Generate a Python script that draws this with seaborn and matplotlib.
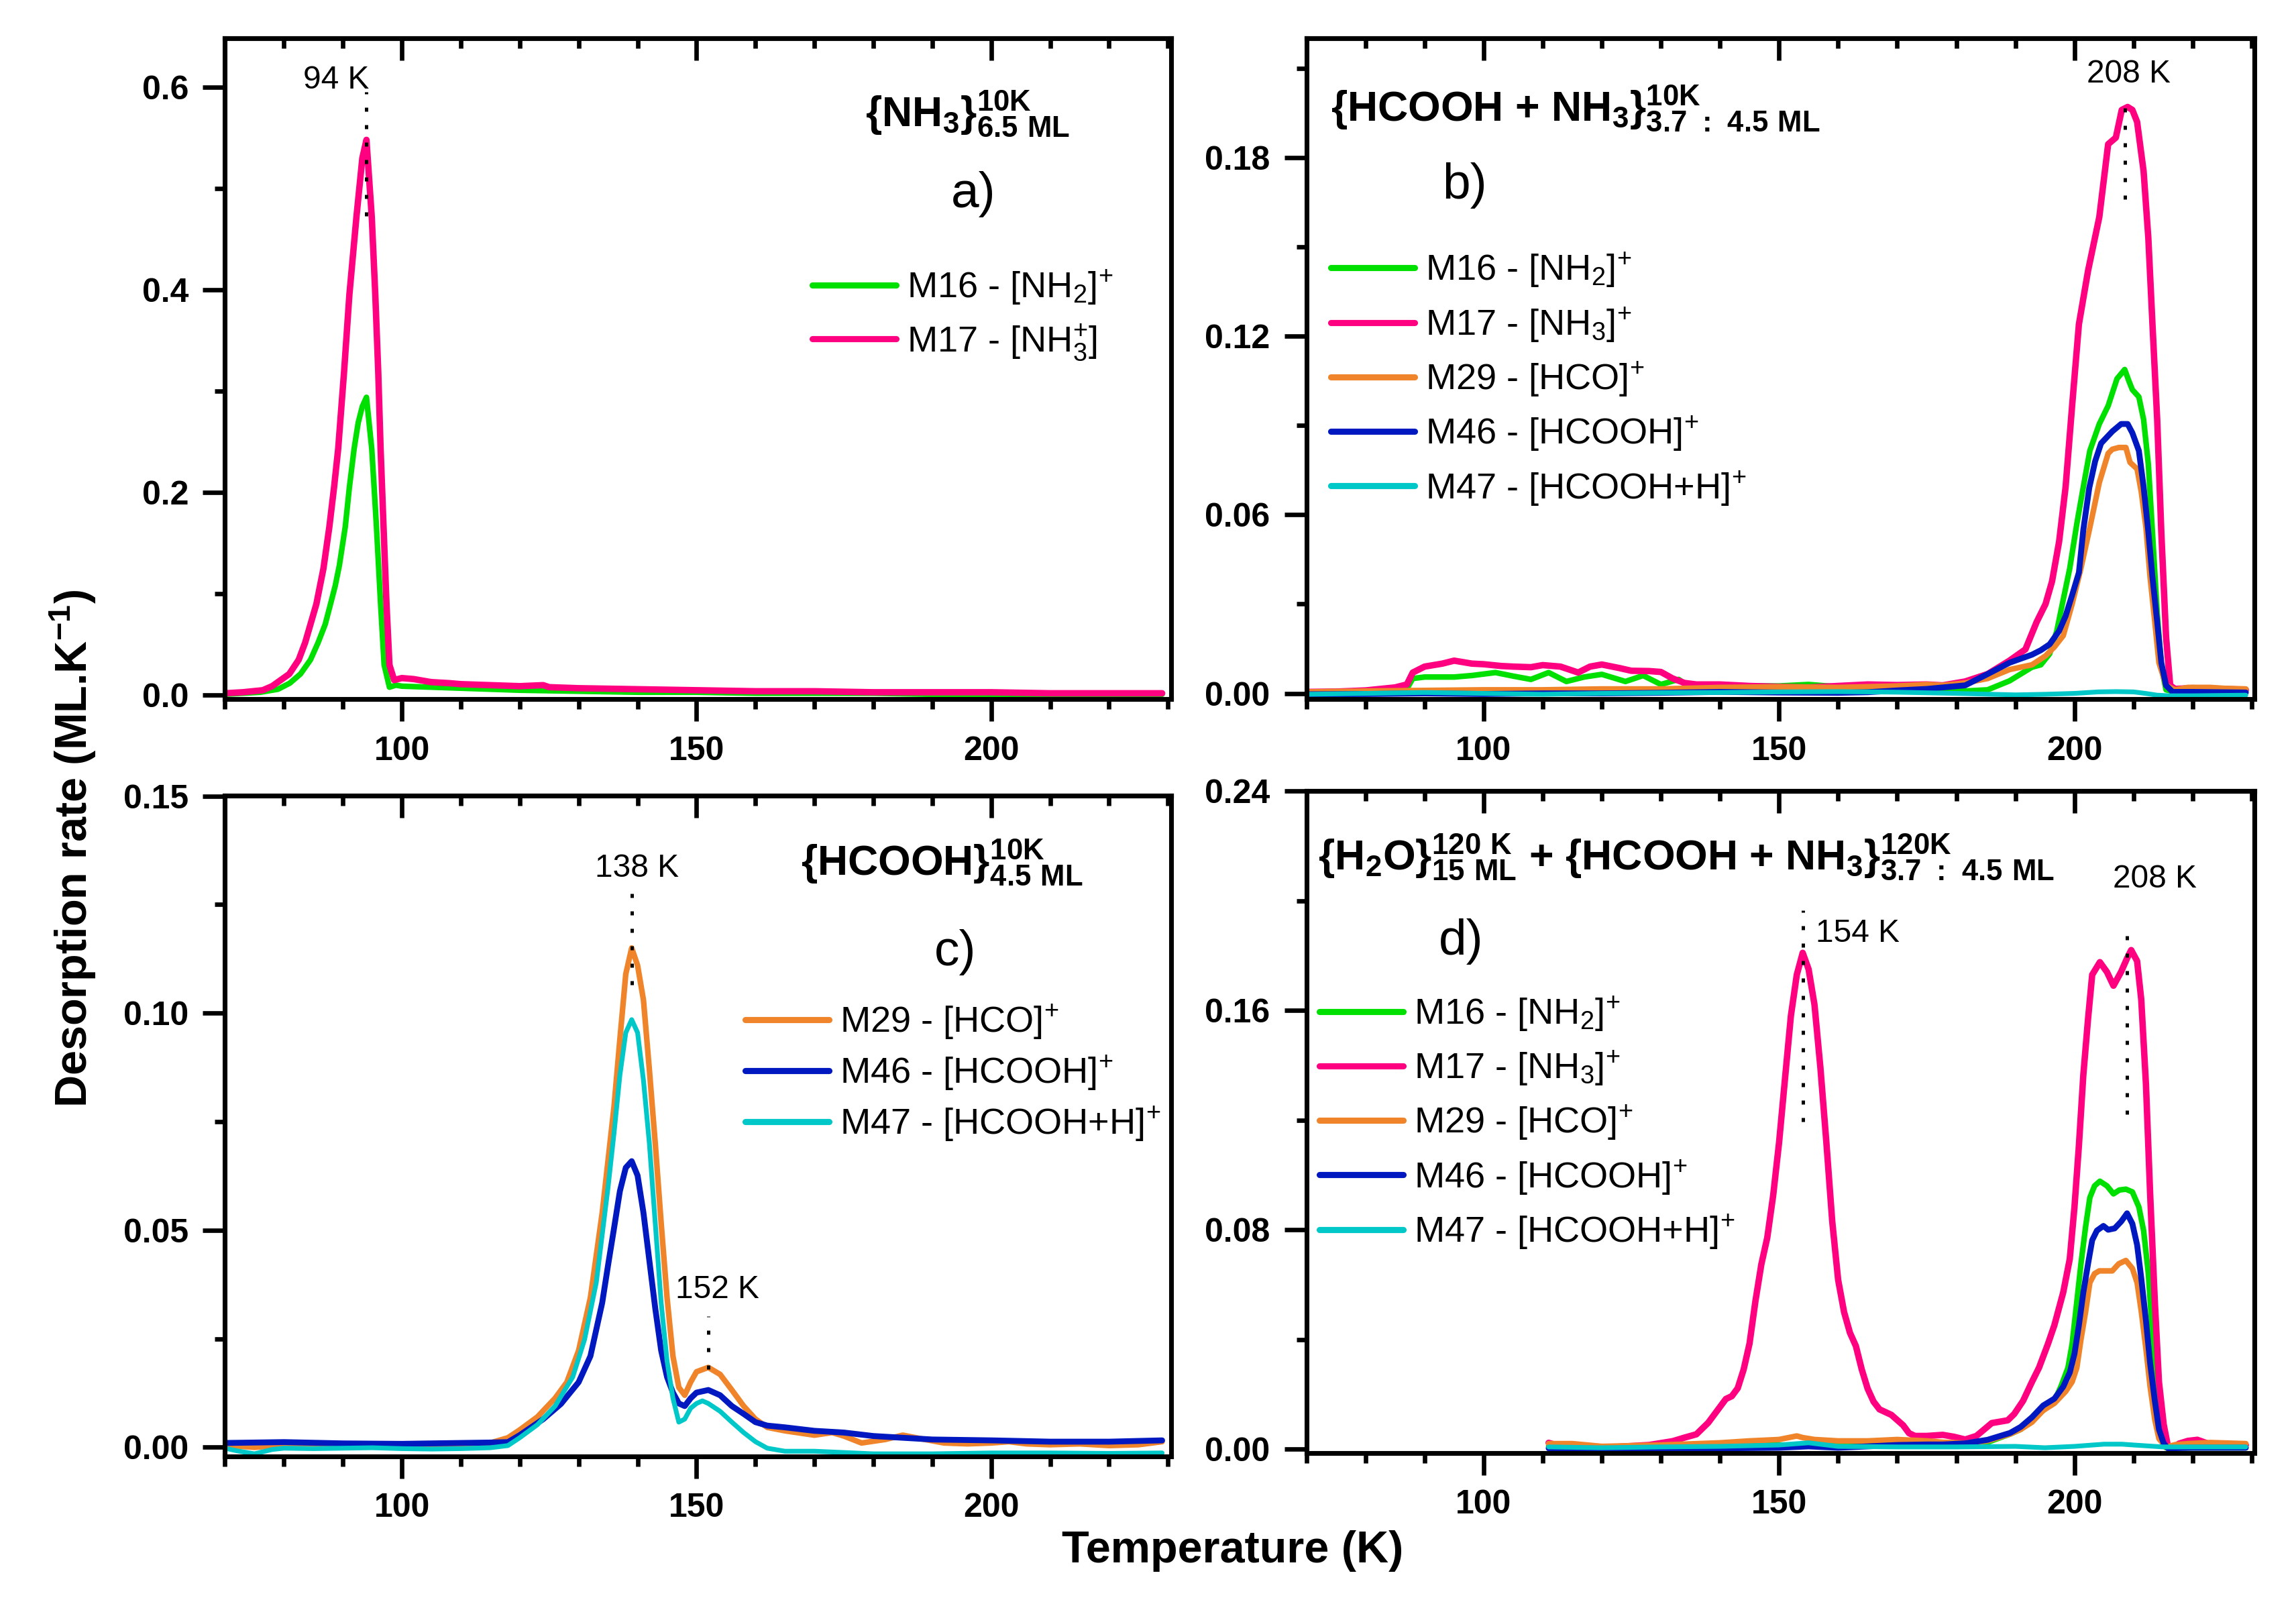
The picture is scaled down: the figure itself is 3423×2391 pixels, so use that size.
import matplotlib
matplotlib.use("Agg")
import matplotlib.pyplot as plt
from matplotlib.ticker import MultipleLocator, FormatStrFormatter
import seaborn as sns

# ---------------- panel a : NH3 ----------------
a_t16 = [70, 73, 76, 79, 81, 82.8, 84.5, 85.8, 87, 87.9, 88.7, 89.4, 90.4, 91.1, 91.9, 92.6, 93.3, 94, 94.9, 95.3,
         95.7, 96.4, 97.0, 97.9, 99, 100, 105, 110, 120, 130, 140, 150, 160, 170, 180, 190, 200, 210, 220, 229]
a_m16 = [0.001, 0.002, 0.003, 0.006, 0.012, 0.021, 0.035, 0.052, 0.07, 0.09, 0.108, 0.128, 0.166, 0.205, 0.243, 0.269, 0.285, 0.294, 0.243, 0.205,
         0.166, 0.09, 0.03, 0.008, 0.01, 0.009, 0.008, 0.007, 0.005, 0.004, 0.003, 0.003, 0.002, 0.002, 0.002, 0.001, 0.001, 0.001, 0.001, 0.001]
a_t17 = [70, 73, 76.4, 78, 80.9, 82.5, 83.6, 85.5, 86.7, 87.7, 88.5, 89.2, 90.2, 91.1, 92.3, 93.3, 94, 94.9, 95.5, 96.0,
         96.4, 96.9, 97.4, 97.9, 98.7, 100, 102, 105, 108, 110, 115, 120, 124, 125, 130, 140, 150, 160, 170, 180,
         190, 200, 210, 220, 229]
a_m17 = [0.002, 0.003, 0.005, 0.009, 0.021, 0.035, 0.052, 0.09, 0.125, 0.166, 0.205, 0.243, 0.319, 0.395, 0.472, 0.53, 0.548, 0.472, 0.395, 0.319,
         0.243, 0.166, 0.09, 0.03, 0.015, 0.017, 0.016, 0.013, 0.012, 0.011, 0.010, 0.009, 0.010, 0.008, 0.007, 0.006, 0.005, 0.004, 0.004, 0.003,
         0.003, 0.003, 0.002, 0.002, 0.002]

# ---------------- panel b : HCOOH + NH3 ----------------
b_t16 = [70, 75, 80, 85, 87, 88, 90, 95, 98, 102, 105, 108, 111, 114, 117, 120, 124, 127, 130, 133,
         135, 140, 145, 150, 155, 160, 165, 170, 175, 181.5, 185.3, 189, 192.8, 194.3, 195.8, 197, 198.1, 199.2, 200.4, 201.5,
         202.6, 204.2, 205.7, 207.2, 208.5, 209.2, 209.8, 210.9, 211.7, 212.5, 213.2, 214, 214.7, 215.5, 217, 222, 229]
b_m16 = [0.0005, 0.0006, 0.0008, 0.001, 0.0015, 0.005, 0.0055, 0.0055, 0.006, 0.007, 0.0058, 0.0047, 0.007, 0.004, 0.0055, 0.0064, 0.004, 0.006, 0.003, 0.0047,
         0.002, 0.0022, 0.0025, 0.0025, 0.003, 0.0022, 0.0018, 0.002, 0.0015, 0.0008, 0.0012, 0.0042, 0.0088, 0.0096, 0.0133, 0.0209, 0.0315, 0.042, 0.057, 0.0694,
         0.0815, 0.0905, 0.0966, 0.1057, 0.1088, 0.105, 0.102, 0.0996, 0.092, 0.077, 0.054, 0.027, 0.0088, 0.0012, 0.0005, 0.0005, 0.0005]
b_t17 = [70, 75, 80, 85, 87, 88, 90, 93, 95, 98, 100, 103, 105, 108, 110, 113, 116, 118, 120, 123,
         125, 128, 130, 132, 134, 136, 140, 145, 150, 155, 160, 165, 170, 175, 177.7, 181.5, 185.3, 189, 191.7, 193.6,
         195.1, 196.2, 197.4, 198.5, 199.6, 200.75, 202.3, 204.2, 205.7, 207, 208, 209, 209.8, 210.6, 211.7, 212.5, 213.2, 214, 214.7, 215.5,
         216.2, 217, 220, 225, 229]
b_m17 = [0.0005, 0.0006, 0.001, 0.002, 0.003, 0.007, 0.009, 0.010, 0.011, 0.010, 0.0098, 0.0092, 0.009, 0.0088, 0.0095, 0.009, 0.007, 0.009, 0.0097, 0.0085,
         0.0076, 0.0075, 0.0072, 0.005, 0.0035, 0.003, 0.003, 0.0025, 0.0022, 0.002, 0.0025, 0.003, 0.0028, 0.003, 0.0027, 0.004, 0.0065, 0.011, 0.0148, 0.024,
         0.030, 0.0376, 0.051, 0.0694, 0.0966, 0.124, 0.142, 0.160, 0.1845, 0.1867, 0.196, 0.197, 0.196, 0.192, 0.1754, 0.153, 0.124, 0.092, 0.054, 0.019,
         0.0027, 0.0015, 0.0018, 0.0015, 0.0012]
b_t29 = [70, 80, 90, 100, 110, 120, 130, 140, 150, 160, 170, 175, 177.7, 181.5, 185.3, 189, 192.8, 195.1, 196.6, 198.1,
         199.6, 201.1, 202.6, 204.2, 205.7, 206.4, 207.5, 208.7, 209.4, 210.6, 211.3, 212.1, 212.8, 213.6, 214.3, 215.5, 217, 219.2, 223, 225.3, 229]
b_m29 = [0.0005, 0.0008, 0.001, 0.0012, 0.0012, 0.0015, 0.0015, 0.002, 0.0022, 0.002, 0.0025, 0.003, 0.0027, 0.0035, 0.005, 0.008, 0.0096, 0.0126, 0.0156, 0.0194,
         0.03, 0.0421, 0.0557, 0.0708, 0.0806, 0.082, 0.0826, 0.0826, 0.0776, 0.0754, 0.0678, 0.0557, 0.039, 0.024, 0.0103, 0.0027, 0.0012, 0.002, 0.002, 0.0017, 0.0015]
b_t46 = [70, 80, 90, 100, 110, 120, 130, 140, 150, 160, 165, 170, 175, 177.7, 181.5, 185.3, 189, 192.8, 194.3, 195.8,
         197.4, 198.5, 199.6, 200.75, 201.5, 202.5, 203.5, 204.5, 206.4, 207.9, 209, 209.8, 210.9, 211.7, 212.5, 213.2, 214, 214.7, 215.5, 216.6,
         220, 229]
b_m46 = [-0.0003, -0.0002, 0.0, -0.0002, 0.0, 0.0, 0.0002, 0.0005, 0.0003, 0.0002, 0.0004, 0.001, 0.0015, 0.002, 0.0027, 0.0065, 0.0103, 0.013, 0.0145, 0.0165,
         0.021, 0.026, 0.033, 0.0406, 0.055, 0.069, 0.078, 0.084, 0.088, 0.0905, 0.0905, 0.0875, 0.0815, 0.0694, 0.0543, 0.039, 0.024, 0.0103, 0.0027, 0.0005,
         0.0005, 0.0003]
b_t47 = [70, 80, 90, 100, 110, 120, 130, 140, 150, 160, 170, 180, 190, 195, 200, 204, 207, 210, 212, 214, 216, 220, 229]
b_m47 = [-0.0003, 0.0, 0.0003, 0.0, -0.0003, 0.0, 0.0002, 0.0003, 0.0005, 0.0006, 0.0004, 0.0, -0.0005, -0.0003, 0.0, 0.0005, 0.0006, 0.0005, 0.0, -0.0006,
         -0.0008, -0.0008, -0.0006]

# ---------------- panel c : HCOOH ----------------
c_t29 = [70, 75, 80, 85, 90, 95, 100, 105, 110, 115, 118, 120, 123, 126, 128, 130, 132, 134, 136, 137,
         138, 139, 140, 141, 142, 143, 144, 145, 146, 147, 148, 149, 150, 152, 154, 156, 158, 160, 162, 165,
         170, 173, 175, 178, 182, 185, 188, 192, 196, 200, 203, 206, 210, 215, 220, 225, 229]
c_m29 = [0.0005, 0.0, 0.0005, 0.0003, 0.0002, 0.0008, 0.0004, 0.0002, 0.0004, 0.001, 0.0022, 0.004, 0.007, 0.0113, 0.015, 0.0223, 0.0345, 0.054, 0.0784, 0.094,
         0.109, 0.115, 0.111, 0.103, 0.087, 0.07, 0.0517, 0.0345, 0.021, 0.0138, 0.012, 0.015, 0.0174, 0.0184, 0.0168, 0.0132, 0.0095, 0.0065, 0.0046, 0.0038,
         0.0028, 0.0034, 0.0026, 0.001, 0.0018, 0.0028, 0.002, 0.001, 0.0008, 0.001, 0.0013, 0.0008, 0.0006, 0.0008, 0.0004, 0.0006, 0.0013]
c_t46 = [70, 80, 90, 100, 110, 115, 118, 120, 124, 127, 130, 132, 134, 135, 136, 137, 138, 139, 140, 141,
         142, 143, 144, 145, 146, 147, 148, 149, 150, 152, 154, 156, 158, 160, 162, 165, 170, 175, 180, 185,
         190, 200, 210, 220, 229]
c_m46 = [0.001, 0.0012, 0.0009, 0.0008, 0.001, 0.0011, 0.0012, 0.0028, 0.0065, 0.01, 0.015, 0.021, 0.0333, 0.042, 0.0504, 0.059, 0.0644, 0.0659, 0.0626, 0.054,
         0.043, 0.032, 0.0223, 0.0162, 0.0126, 0.0101, 0.0095, 0.0113, 0.0126, 0.0132, 0.012, 0.0095, 0.0077, 0.0058, 0.005, 0.0046, 0.0038, 0.0034, 0.0026, 0.0022,
         0.0018, 0.0016, 0.0013, 0.0013, 0.0016]
c_t47 = [70, 72, 75, 78, 80, 85, 90, 95, 100, 105, 110, 115, 118, 120, 123, 126, 129, 131, 133, 135,
         136, 137, 138, 139, 140, 141, 142, 143, 144, 145, 146, 147, 148, 149, 150, 151, 152, 154, 156, 158,
         160, 162, 165, 170, 180, 190, 200, 210, 220, 229]
c_m47 = [-0.0002, -0.0008, -0.0015, -0.0005, -0.0002, -0.0003, -0.0002, -0.0001, -0.0003, -0.0004, -0.0003, -0.0001, 0.0004, 0.0022, 0.0052, 0.0095, 0.0162, 0.0248, 0.038, 0.060,
         0.0723, 0.0857, 0.0955, 0.0985, 0.0955, 0.0845, 0.070, 0.0516, 0.0333, 0.0199, 0.0113, 0.0058, 0.0065, 0.009, 0.0101, 0.0107, 0.0101, 0.0083, 0.0058, 0.0034,
         0.0013, -0.0002, -0.0009, -0.0009, -0.0015, -0.0015, -0.0013, -0.0013, -0.0014, -0.0013]

# ---------------- panel d : H2O + (HCOOH + NH3) ----------------
d_t16 = [111, 120, 130, 140, 150, 160, 170, 180, 181.5, 185.3, 189.1, 190.9, 192.8, 194.7, 196.6, 197.7, 198.9, 199.6, 200.4, 201.1,
         201.9, 202.6, 203.4, 204.3, 205.5, 206.6, 207.6, 208.7, 209.8, 210.9, 211.7, 212.5, 213.2, 214, 214.7, 215.5, 218, 222, 229]
d_m16 = [0.001, 0.0008, 0.001, 0.0012, 0.0015, 0.0012, 0.0015, 0.0015, 0.0015, 0.0025, 0.0055, 0.0072, 0.0107, 0.0141, 0.0176, 0.0228, 0.0297, 0.0383, 0.0538, 0.0676,
         0.0814, 0.0917, 0.096, 0.0977, 0.096, 0.0931, 0.0945, 0.0948, 0.0938, 0.0883, 0.0797, 0.0641, 0.0417, 0.0193, 0.0038, 0.0005, 0.0005, 0.0005, 0.0005]
d_t17 = [111, 113, 116, 120, 124, 128, 132, 134, 136, 138, 140, 141, 142, 143, 144, 145, 146, 147, 148, 149,
         150, 151, 152, 153, 154, 155, 156, 157, 158, 159, 160, 161, 162, 163, 164, 165, 166, 167, 168, 169,
         170, 171, 172, 173, 175, 177.7, 179.6, 181.5, 183.4, 184.9, 186, 188.7, 189.8, 191.3, 192.8, 194, 195.5, 196.6, 198.1, 199.2,
         200, 200.75, 201.5, 202.3, 203, 204.3, 205.5, 206.6, 207.9, 208.9, 209.6, 210.6, 211.3, 212.1, 212.8, 213.6, 214.3, 215.1, 215.8, 216.6,
         217.7, 219.2, 220.8, 223, 225.3, 229]
d_m17 = [0.0023, 0.001, 0.0004, 0.0004, 0.001, 0.0015, 0.0029, 0.0042, 0.0054, 0.0096, 0.0154, 0.0183, 0.0193, 0.0222, 0.029, 0.0385, 0.054, 0.0674, 0.0771, 0.0925,
         0.1118, 0.135, 0.158, 0.173, 0.181, 0.175, 0.162, 0.139, 0.112, 0.083, 0.0617, 0.050, 0.0424, 0.0376, 0.029, 0.022, 0.0173, 0.0145, 0.0135, 0.0125,
         0.0106, 0.0087, 0.0058, 0.0048, 0.0048, 0.0052, 0.0045, 0.0035, 0.0048, 0.0075, 0.0095, 0.0105, 0.0128, 0.0176, 0.0245, 0.0297, 0.0383, 0.0452, 0.0572, 0.0693,
         0.0883, 0.1107, 0.1365, 0.157, 0.173, 0.1776, 0.174, 0.169, 0.1741, 0.179, 0.182, 0.178, 0.164, 0.133, 0.0934, 0.0538, 0.0245, 0.009, 0.0012, 0.0003,
         0.002, 0.003, 0.0034, 0.0017, 0.0012, 0.0015]
d_t29 = [111, 115, 120, 130, 140, 145, 150, 153, 154, 156, 160, 165, 170, 175, 177.7, 181.5, 185.3, 189.1, 190.9, 192.8,
         194.7, 196.6, 198.5, 199.6, 200.4, 201.1, 201.9, 202.6, 203.4, 204.2, 206.4, 207.5, 208.7, 209.8, 210.6, 211.3, 212.1, 212.8, 213.6, 214.3,
         215.5, 217, 219.2, 223, 229]
d_m29 = [0.002, 0.002, 0.001, 0.0015, 0.0023, 0.003, 0.0035, 0.0048, 0.0042, 0.0035, 0.003, 0.003, 0.0035, 0.003, 0.0025, 0.0022, 0.003, 0.0055, 0.0072, 0.0098,
         0.0141, 0.0167, 0.021, 0.0245, 0.0297, 0.04, 0.0503, 0.0607, 0.064, 0.065, 0.065, 0.0676, 0.0688, 0.0659, 0.0607, 0.0503, 0.0365, 0.0228, 0.0107, 0.0038,
         0.0007, 0.0016, 0.002, 0.0024, 0.002]
d_t46 = [111, 120, 130, 140, 150, 155, 160, 165, 170, 175, 177.7, 181.5, 185.3, 189.1, 190.9, 192.8, 194.7, 196.6, 198.1, 199.2,
         200, 200.75, 201.5, 202.3, 203, 203.8, 204.9, 205.7, 206.8, 207.9, 208.9, 209.8, 210.6, 211.3, 212.1, 212.8, 213.6, 214.3, 215.1, 215.8,
         220, 229]
d_m46 = [0.0003, 0.0, 0.0002, 0.0003, 0.0005, 0.001, 0.0005, 0.001, 0.0015, 0.0017, 0.0017, 0.0021, 0.0034, 0.0059, 0.0081, 0.0116, 0.0159, 0.0184, 0.0228, 0.0279,
         0.0348, 0.0452, 0.0572, 0.0676, 0.0762, 0.0797, 0.0814, 0.08, 0.0805, 0.083, 0.086, 0.0822, 0.0745, 0.0624, 0.0469, 0.0314, 0.0176, 0.0072, 0.0021, 0.0003,
         0.0005, 0.0005]
d_t47 = [111, 120, 130, 140, 150, 155, 160, 170, 180, 190, 195, 200, 205, 208, 210, 215, 220, 229]
d_m47 = [0.0008, 0.0005, 0.0008, 0.001, 0.0015, 0.0023, 0.001, 0.0008, 0.0008, 0.001, 0.0005, 0.001, 0.0018, 0.0018, 0.0015, 0.0008, 0.0008, 0.0008]

COLORS = {"M16": "#00e000", "M17": "#ff0080", "M29": "#f0842a", "M46": "#0018c0", "M47": "#00c8c8"}
WIDTHS = {"M16": 2.0, "M17": 2.3, "M29": 2.0, "M46": 2.1, "M47": 1.7}
LABELS = {
    "M16": r"M16 - [NH$_2$]$^{+}$",
    "M17": r"M17 - [NH$_3$]$^{+}$",
    "M29": r"M29 - [HCO]$^{+}$",
    "M46": r"M46 - [HCOOH]$^{+}$",
    "M47": r"M47 - [HCOOH+H]$^{+}$",
}

sns.set_theme(style="ticks")
plt.rcParams["font.family"] = ["Liberation Sans", "DejaVu Sans"]
plt.rcParams["mathtext.default"] = "regular"
plt.rcParams["axes.linewidth"] = 1.7
for k in ["axes.edgecolor", "xtick.color", "ytick.color", "text.color", "axes.labelcolor"]:
    plt.rcParams[k] = "black"

fig = plt.figure(figsize=(3423 / 300, 2391 / 300), dpi=300)
ax_a = fig.add_axes([0.098, 0.564, 0.412, 0.412])
ax_b = fig.add_axes([0.569, 0.564, 0.413, 0.412])
ax_c = fig.add_axes([0.098, 0.092, 0.412, 0.412])
ax_d = fig.add_axes([0.569, 0.094, 0.413, 0.413])


def draw_panel(ax, series, ylim, ymaj, ymin, yfmt, leg_xy, spacing=0.45):
    for key, t, v, lab in series:
        sns.lineplot(x=t, y=v, ax=ax, color=COLORS[key], lw=WIDTHS[key], label=lab,
                     sort=False, estimator=None)
    ax.set_xlim(70, 230.5)
    ax.set_ylim(*ylim)
    ax.set_xlabel("")
    ax.set_ylabel("")
    ax.xaxis.set_major_locator(MultipleLocator(50))
    ax.xaxis.set_minor_locator(MultipleLocator(10))
    ax.yaxis.set_major_locator(MultipleLocator(ymaj))
    ax.yaxis.set_minor_locator(MultipleLocator(ymin))
    ax.yaxis.set_major_formatter(FormatStrFormatter(yfmt))
    ax.tick_params(which="major", direction="out", length=8, width=1.6, labelsize=12, pad=5)
    ax.tick_params(which="minor", direction="out", length=3.7, width=1.6)
    plt.setp(ax.get_xticklabels() + ax.get_yticklabels(), fontweight="bold")
    top = ax.secondary_xaxis("top")
    top.xaxis.set_major_locator(MultipleLocator(50))
    top.xaxis.set_minor_locator(MultipleLocator(10))
    top.tick_params(which="major", direction="in", length=8, width=1.6, labeltop=False)
    top.tick_params(which="minor", direction="in", length=3.7, width=1.6)
    for s in list(ax.spines.values()) + list(top.spines.values()):
        s.set_linewidth(1.7)
        s.set_color("black")
    leg = ax.legend(loc="upper left", bbox_to_anchor=leg_xy, frameon=False, fontsize=13,
                    handlelength=2.3, handletextpad=0.3, labelspacing=spacing,
                    borderpad=0, borderaxespad=0)
    for h in leg.get_lines():
        h.set_linewidth(2.2)


def mark(ax, x, y0, y1):
    ax.plot([x, x], [y0, y1], color="black", lw=1.2, ls=(0, (1.2, 4.0)))


draw_panel(ax_a, [("M16", a_t16, a_m16, LABELS["M16"]),
                  ("M17", a_t17, a_m17, r"M17 - [NH$_3^{+}$]")],
           (-0.004, 0.648), 0.2, 0.1, "%.1f", (0.621, 0.652))
draw_panel(ax_b, [(k, t, v, LABELS[k]) for k, t, v in
                  [("M16", b_t16, b_m16), ("M17", b_t17, b_m17), ("M29", b_t29, b_m29),
                   ("M46", b_t46, b_m46), ("M47", b_t47, b_m47)]],
           (-0.002, 0.22), 0.06, 0.03, "%.2f", (0.026, 0.678))
draw_panel(ax_c, [(k, t, v, LABELS[k]) for k, t, v in
                  [("M29", c_t29, c_m29), ("M46", c_t46, c_m46), ("M47", c_t47, c_m47)]],
           (-0.0021, 0.1501), 0.05, 0.025, "%.2f", (0.550, 0.686), spacing=0.35)
draw_panel(ax_d, [(k, t, v, LABELS[k]) for k, t, v in
                  [("M16", d_t16, d_m16), ("M17", d_t17, d_m17), ("M29", d_t29, d_m29),
                   ("M46", d_t46, d_m46), ("M47", d_t47, d_m47)]],
           (-0.0015, 0.2401), 0.08, 0.04, "%.2f", (0.014, 0.692))

# peak markers
mark(ax_a, 94, 0.473, 0.595)
ax_a.text(88.9, 0.607, "94 K", ha="center", va="center", fontsize=11.5)
mark(ax_b, 208.5, 0.166, 0.201)
ax_b.text(209.2, 0.208, "208 K", ha="center", va="center", fontsize=11.5)
mark(ax_c, 139, 0.1065, 0.1284)
ax_c.text(139.9, 0.1333, "138 K", ha="center", va="center", fontsize=11.5)
mark(ax_c, 152, 0.018, 0.0302)
ax_c.text(153.5, 0.0363, "152 K", ha="center", va="center", fontsize=11.5)
mark(ax_d, 154, 0.1195, 0.1965)
ax_d.text(156.2, 0.188, "154 K", ha="left", va="center", fontsize=11.5)
mark(ax_d, 208.9, 0.122, 0.191)
ax_d.text(213.6, 0.2078, "208 K", ha="center", va="center", fontsize=11.5)

# sample titles and panel letters
ax_a.text(0.677, 0.867, r"{NH$_3$}$^{10K}_{6.5\ ML}$", transform=ax_a.transAxes,
          fontsize=15, fontweight="bold", va="baseline")
ax_a.text(0.791, 0.764, "a)", transform=ax_a.transAxes, fontsize=18, ha="center", va="center")
ax_b.text(0.026, 0.875, r"{HCOOH + NH$_3$}$^{10K}_{3.7\ :\ 4.5\ ML}$", transform=ax_b.transAxes,
          fontsize=15, fontweight="bold", va="baseline")
ax_b.text(0.167, 0.778, "b)", transform=ax_b.transAxes, fontsize=18, ha="center", va="center")
ax_c.text(0.609, 0.880, r"{HCOOH}$^{10K}_{4.5\ ML}$", transform=ax_c.transAxes,
          fontsize=15, fontweight="bold", va="baseline")
ax_c.text(0.772, 0.763, "c)", transform=ax_c.transAxes, fontsize=18, ha="center", va="center")
ax_d.text(0.012, 0.881, r"{H$_2$O}$^{120\ K}_{15\ ML}$ + {HCOOH + NH$_3$}$^{120K}_{3.7\ :\ 4.5\ ML}$",
          transform=ax_d.transAxes, fontsize=15, fontweight="bold", va="baseline")
ax_d.text(0.163, 0.772, "d)", transform=ax_d.transAxes, fontsize=18, ha="center", va="center")

fig.text(0.0317, 0.471, r"Desorption rate (ML.K$^{-1}$)", rotation=90, ha="center", va="center",
         fontsize=16, fontweight="bold")
fig.text(0.537, 0.033, "Temperature (K)", ha="center", va="center", fontsize=16, fontweight="bold")

fig.savefig("out.png", dpi=300, facecolor="white")
